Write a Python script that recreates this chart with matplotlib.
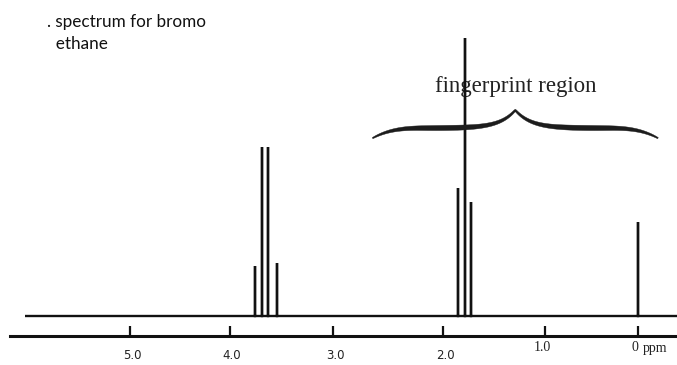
import numpy as np
import matplotlib
matplotlib.use("Agg")
import matplotlib.pyplot as plt
from matplotlib.scale import FuncScale
from matplotlib.patches import Polygon
from matplotlib.transforms import IdentityTransform

# ---- data -------------------------------------------------------------
# chemical shifts (ppm) and relative heights of the drawn lines
quartet_ppm = [3.76, 3.69, 3.63, 3.54]
quartet_height = [18, 61, 61, 19]
triplet_ppm = [1.85, 1.78, 1.725]
triplet_height = [46, 100, 41]
tms_ppm = [0.0]
tms_height = [34]

baseline_range = (6.05, -0.45)      # where the trace runs, ppm

tick_ppm = [5, 4, 3, 2, 1, 0]
tick_labels = ["5.0", "4.0", "3.0", "2.0", "1.0", "0"]
tick_fonts = ["sans", "sans", "sans", "sans", "serif", "serif"]

fingerprint_span = (2.64, -0.215)   # ppm covered by the brace

# ---- hand-drawn axis calibration (ppm -> horizontal pixel) ------------
calib_ppm = np.array([0, 1, 2, 3, 4, 5], float)
calib_px = np.array([638, 545, 443, 333, 230, 130], float)


def ppm_to_px(v):
    v = np.asarray(v, float)
    shape = v.shape
    v = np.atleast_1d(v).ravel()
    out = np.interp(v, calib_ppm, calib_px)
    lo = v < calib_ppm[0]
    hi = v > calib_ppm[-1]
    s_lo = (calib_px[1] - calib_px[0]) / (calib_ppm[1] - calib_ppm[0])
    s_hi = (calib_px[-1] - calib_px[-2]) / (calib_ppm[-1] - calib_ppm[-2])
    out[lo] = calib_px[0] + (v[lo] - calib_ppm[0]) * s_lo
    out[hi] = calib_px[-1] + (v[hi] - calib_ppm[-1]) * s_hi
    return out.reshape(shape)


def px_to_ppm(p):
    p = np.asarray(p, float)
    shape = p.shape
    p = np.atleast_1d(p).ravel()
    xp = calib_px[::-1]
    fp = calib_ppm[::-1]
    out = np.interp(p, xp, fp)
    lo = p < xp[0]
    hi = p > xp[-1]
    s_lo = (fp[1] - fp[0]) / (xp[1] - xp[0])
    s_hi = (fp[-1] - fp[-2]) / (xp[-1] - xp[-2])
    out[lo] = fp[0] + (p[lo] - xp[0]) * s_lo
    out[hi] = fp[-1] + (p[hi] - xp[-1]) * s_hi
    return out.reshape(shape)


def forward(v):
    return -ppm_to_px(v)


def inverse(p):
    return px_to_ppm(-np.asarray(p, float))


W_PX, H_PX, DPI = 677, 365, 100
fig = plt.figure(figsize=(W_PX / DPI, H_PX / DPI), dpi=DPI)
ax = fig.add_axes([0, 0, 1, 1])
ax.set_xscale(FuncScale(ax.xaxis, (forward, inverse)))
ax.set_xlim(float(inverse(0.0)), float(inverse(-W_PX)))
ax.set_ylim(-17.6, 113.7)

INK = "#111111"

# ---- spectrum trace ---------------------------------------------------
peaks_ppm = quartet_ppm + triplet_ppm + tms_ppm
peaks_h = quartet_height + triplet_height + tms_height
xs, ys = [baseline_range[0]], [0.0]
for p, h in zip(peaks_ppm, peaks_h):
    xs += [p, p, p]
    ys += [0.0, h, 0.0]
xs.append(baseline_range[1])
ys.append(0.0)
ax.plot(xs, ys, color=INK, lw=1.7, solid_joinstyle="miter",
        solid_capstyle="butt", zorder=3)

# ---- ppm axis ---------------------------------------------------------
axis_y = -7.2
for side in ("top", "left", "right"):
    ax.spines[side].set_visible(False)
sp = ax.spines["bottom"]
sp.set_position(("data", axis_y))
sp.set_bounds(6.2, -0.45)
sp.set_linewidth(2.2)
sp.set_color(INK)
ax.set_yticks([])
ax.set_xticks(tick_ppm)
ax.xaxis.set_minor_locator(matplotlib.ticker.NullLocator())
ax.tick_params(axis="x", direction="in", length=7.5, width=1.6,
               color=INK, labelbottom=False)

font_cfg = {
    "sans": dict(family="DejaVu Sans", size=8.5, dy=-19, dx=2),
    "serif": dict(family="Liberation Serif", size=10, dy=-11, dx=-3),
}
for v, lab, f in zip(tick_ppm, tick_labels, tick_fonts):
    cfg = font_cfg[f]
    ax.annotate(lab, xy=(v, axis_y), xytext=(cfg["dx"], cfg["dy"]),
                textcoords="offset pixels", ha="center", va="center",
                family=cfg["family"], fontsize=cfg["size"], color="#222222")
ax.annotate("ppm", xy=(0, axis_y), xytext=(5, font_cfg["serif"]["dy"] - 1),
            textcoords="offset pixels", ha="left", va="center",
            family="Liberation Serif", fontsize=10, color="#222222")

# ---- title ------------------------------------------------------------
fig.text(47 / W_PX, 1 - 33 / H_PX, ". spectrum for bromo\n  ethane",
         ha="left", va="center", family="Lato", fontsize=12.3,
         color="#111111", linespacing=1.42)


# ---- brace over the fingerprint region --------------------------------
def draw_brace(ax, x_left, x_right, y_level, color):
    (xl, yd), (xr, _) = ax.transData.transform([(x_left, y_level),
                                                 (x_right, y_level)])
    half = (xr - xl) / 2.0
    u = np.linspace(0, 1, 300)
    hook = np.where(u < 0.38, -10.0 * (1 - u / 0.38) ** 3, 0.0)
    tip = 18.0 * np.exp(-(1 - u) / 0.11)
    cy = yd + hook + tip
    cx = xl + u * half
    thick = 1.2 + 3.6 * np.sin(np.pi * u) ** 0.8 + 0.6 * u
    # mirror for the right half
    cx = np.concatenate([cx, (2 * (xl + half) - cx[::-1])[1:]])
    cy = np.concatenate([cy, cy[::-1][1:]])
    thick = np.concatenate([thick, thick[::-1][1:]])
    dx = np.gradient(cx)
    dy = np.gradient(cy)
    n = np.hypot(dx, dy)
    nx, ny = -dy / n, dx / n
    upper = np.column_stack([cx + nx * thick / 2, cy + ny * thick / 2])
    lower = np.column_stack([cx - nx * thick / 2, cy - ny * thick / 2])
    verts = np.vstack([upper, lower[::-1]])
    poly = Polygon(verts, closed=True, facecolor=color, edgecolor=color,
                   lw=0.3, transform=IdentityTransform(), zorder=2)
    fig.add_artist(poly)
    return (xl + xr) / 2.0


xm = draw_brace(ax, fingerprint_span[0], fingerprint_span[1], 67.6, "#1c1c1c")
ax.text(float(inverse(-xm)), 82.5, "fingerprint region", ha="center",
        va="center", family="Liberation Serif", fontsize=16.5,
        color="#222222", zorder=1)

fig.savefig("out.png", dpi=DPI)
